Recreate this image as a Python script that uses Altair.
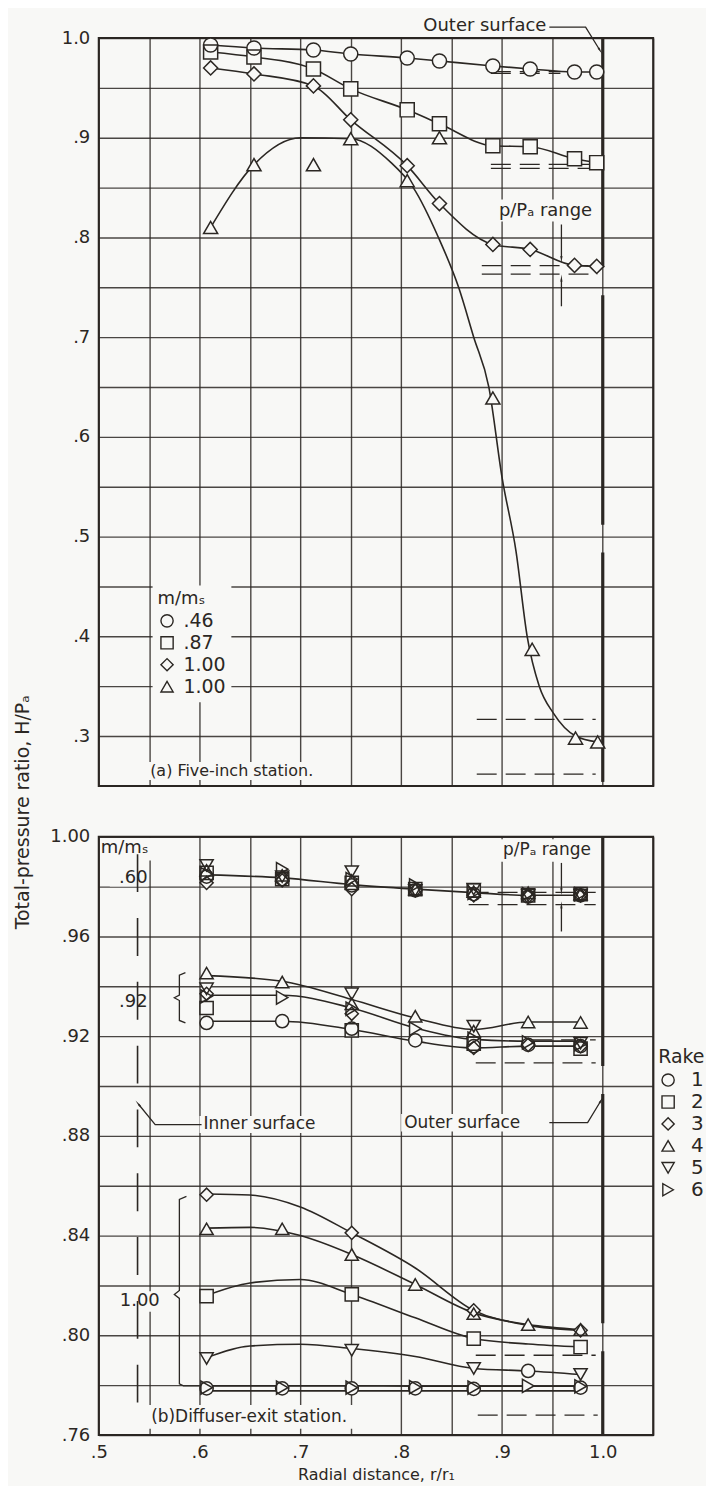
import math
import altair as alt
import pandas as pd

INK = "#2b2723"
BG = "#f8f8f6"
FONT = "DejaVu Sans"

# ---------------- grid / axes ----------------
X_DOMAIN = [0.50, 1.05]
X_GRID = [0.50, 0.55, 0.60, 0.65, 0.70, 0.75, 0.80, 0.85, 0.90, 0.95, 1.00, 1.05]
A_Y_DOMAIN = [0.25, 1.00]
A_Y_GRID = [0.25, 0.30, 0.35, 0.40, 0.45, 0.50, 0.55, 0.60, 0.65, 0.70, 0.75,
            0.80, 0.85, 0.90, 0.95, 1.00]
B_Y_DOMAIN = [0.76, 1.00]
B_Y_GRID = [0.76, 0.78, 0.80, 0.82, 0.84, 0.86, 0.88, 0.90, 0.92, 0.94, 0.96, 0.98, 1.00]

# ---------------- (a) Five-inch station ----------------
A_R = [0.611, 0.654, 0.713, 0.750, 0.806, 0.838, 0.891, 0.928, 0.972, 0.994]
A_M046 = [0.993, 0.990, 0.988, 0.984, 0.980, 0.977, 0.972, 0.969, 0.966, 0.966]
A_M087 = [0.986, 0.981, 0.969, 0.949, 0.928, 0.914, 0.892, 0.891, 0.879, 0.875]
A_M100D = [0.970, 0.964, 0.952, 0.918, 0.872, 0.834, 0.793, 0.788, 0.772, 0.771]
A_R_TRI = [0.611, 0.654, 0.713, 0.750, 0.806, 0.838, 0.891, 0.930, 0.973, 0.995]
A_M100T = [0.810, 0.873, 0.873, 0.899, 0.857, 0.900, 0.639, 0.387, 0.298, 0.294]
# faired curve drawn through the triangle data
A_FAIR_R = [0.611, 0.654, 0.700, 0.750, 0.790, 0.812, 0.837, 0.857, 0.872, 0.887,
            0.900, 0.914, 0.925, 0.937, 0.951, 0.973, 0.995]
A_FAIR_H = [0.810, 0.873, 0.900, 0.899, 0.875, 0.850, 0.800, 0.750, 0.700, 0.650,
            0.560, 0.485, 0.400, 0.350, 0.323, 0.300, 0.294]
A_KEYS = ["a1", "a2", "a3", "a4"]
A_LEGEND_LABELS = [".46", ".87", "1.00", "1.00"]
A_SHAPES = ["circle", "square", "diamond", "triangle-up"]
# p/Pa range dashes: y, x start, x end
A_RANGE_Y = [0.9664, 0.9645, 0.8733, 0.8693, 0.7717, 0.7633, 0.3167, 0.2617]
A_RANGE_X0 = [0.889, 0.889, 0.889, 0.889, 0.880, 0.880, 0.875, 0.875]
A_RANGE_X1 = [0.958, 0.958, 0.995, 0.995, 0.995, 0.995, 0.993, 0.993]

# ---------------- (b) Diffuser-exit station ----------------
B_R = [0.607, 0.682, 0.751, 0.814, 0.872, 0.926, 0.978]
# m/ms = .60
B60_R1 = [0.9840, 0.9830, 0.9805, 0.9785, 0.9770, 0.9760, 0.9765]
B60_R2 = [0.9855, 0.9830, 0.9815, 0.9790, 0.9785, 0.9765, 0.9770]
B60_R3 = [0.9815, 0.9825, 0.9790, 0.9785, 0.9765, 0.9760, 0.9765]
B60_R4 = [0.9865, 0.9845, 0.9825, 0.9790, 0.9780, 0.9775, 0.9770]
B60_R5 = [0.9885, 0.9840, 0.9860, 0.9785, 0.9790, 0.9765, 0.9765]
B60_R6 = [0.9850, 0.9870, 0.9830, 0.9805, 0.9775, 0.9770, 0.9770]
B60_FAIR = [0.9847, 0.9835, 0.9808, 0.9790, 0.9776, 0.9765, 0.9765]
# m/ms = .92
B92_R1 = [0.9253, 0.9260, 0.9230, 0.9183, 0.9160, 0.9165, 0.9160]
B92_R2 = [0.9313, None, 0.9223, None, 0.9170, None, 0.9150]
B92_R3 = [0.9370, None, 0.9290, None, 0.9153, 0.9165, 0.9160]
B92_R4 = [0.9453, 0.9417, 0.9330, 0.9280, 0.9220, 0.9257, 0.9255]
B92_R5 = [0.9390, None, 0.9370, None, 0.9240, None, 0.9172]
B92_R6 = [0.9360, 0.9355, 0.9310, 0.9230, 0.9190, 0.9175, 0.9168]
B92_FAIR4 = [0.9443, 0.9420, 0.9347, 0.9273, 0.9227, 0.9257, 0.9257]
B92_FAIR6 = [0.9364, 0.9364, 0.9313, 0.9233, 0.9187, 0.9180, 0.9180]
B92_FAIR1 = [0.9260, 0.9260, 0.9227, 0.9180, 0.9153, 0.9160, 0.9160]
# m/ms = 1.00
B100_R1 = [0.7787, 0.7787, 0.7787, 0.7787, 0.7785, 0.7857, 0.7790]
B100_R2 = [0.8157, None, 0.8164, None, 0.7987, None, 0.7953]
B100_R3 = [0.8564, None, 0.8411, None, 0.8100, None, 0.8020]
B100_R4 = [0.8427, 0.8427, 0.8324, 0.8204, 0.8087, 0.8043, 0.8023]
B100_R5 = [0.7907, None, 0.7940, None, 0.7867, None, 0.7843]
B100_R6 = [0.7790, 0.7790, 0.7790, 0.7792, 0.7790, 0.7797, 0.7795]
B100_FAIR_R = [0.607, 0.650, 0.700, 0.751, 0.814, 0.872, 0.926, 0.978]
B100_FAIR3 = [0.8567, 0.8563, 0.8515, 0.8411, 0.8270, 0.8100, 0.8040, 0.8020]
B100_FAIR2 = [0.8160, 0.8210, 0.8224, 0.8164, 0.8070, 0.7987, 0.7965, 0.7953]
B100_FAIR5 = [0.7910, 0.7957, 0.7964, 0.7947, 0.7915, 0.7867, 0.7857, 0.7843]
B100_FAIR4 = [0.8430, 0.8433, 0.8400, 0.8324, 0.8204, 0.8090, 0.8043, 0.8023]
B100_FAIR1 = [0.7797, 0.7797, 0.7797, 0.7797, 0.7796, 0.7796, 0.7796, 0.7796]
B100_FAIR6 = [0.7777, 0.7777, 0.7777, 0.7777, 0.7777, 0.7777, 0.7777, 0.7777]
RAKES = ["1", "2", "3", "4", "5", "6"]
RAKE_SHAPES = ["circle", "square", "diamond", "triangle-up", "triangle-down", "triangle-right"]
B_RANGE_Y = [0.9777, 0.9728, 0.9185, 0.9093, 0.7920, 0.7680]
B_RANGE_X0 = [0.867, 0.867, 0.930, 0.874, 0.874, 0.876]
B_RANGE_X1 = [0.993, 0.993, 0.993, 0.993, 0.993, 0.995]

# pixels per data unit (for arrowhead angles)
PX_X = 556 / 0.55
PX_YA = 750 / 0.75
PX_YB = 600 / 0.24
PT_SIZE_A = 200
PT_SIZE_B = 175

XS = alt.Scale(domain=X_DOMAIN, nice=False, zero=False)
YSA = alt.Scale(domain=A_Y_DOMAIN, nice=False, zero=False)
YSB = alt.Scale(domain=B_Y_DOMAIN, nice=False, zero=False)

X_LBL = ("round(datum.value*100) % 10 == 0 && datum.value < 1.01 ? "
         "(datum.value > 0.999 ? '1.0' : substring(format(datum.value, '.1f'), 1)) : ''")
YA_LBL = ("round(datum.value*100) % 10 == 0 && datum.value > 0.27 ? "
          "(datum.value > 0.999 ? '1.0' : substring(format(datum.value, '.1f'), 1)) : ''")
YB_LBL = ("round(datum.value*100) % 4 == 0 ? "
          "(datum.value > 0.999 ? '1.00' : substring(format(datum.value, '.2f'), 1)) : ''")

AX_X_TOP = alt.Axis(values=X_GRID, labels=False, ticks=False, domain=False, title=None)
AX_X_BOT = alt.Axis(values=X_GRID, labelExpr=X_LBL, ticks=False, domain=False,
                    labelPadding=9, labelOverlap=False, labelFlush=False,
                    title="Radial distance, r/r\u2081", titlePadding=5, titleFontSize=16)
AX_Y_TOP = alt.Axis(values=A_Y_GRID, labelExpr=YA_LBL, ticks=False, domain=False,
                    labelPadding=9, labelOverlap=False, labelFlush=False,
                    title="Total-pressure ratio, H/P\u2090", titleX=-76, titleY=776,
                    titleBaseline="middle", titleFontSize=19)
AX_Y_BOT = alt.Axis(values=B_Y_GRID, labelExpr=YB_LBL, ticks=False, domain=False,
                    labelPadding=9, labelOverlap=False, labelFlush=False, title=None)


def enc(panel):
    if panel == "a":
        return (lambda f: alt.X(f + ":Q", scale=XS, axis=AX_X_TOP),
                lambda f: alt.Y(f + ":Q", scale=YSA, axis=AX_Y_TOP))
    return (lambda f: alt.X(f + ":Q", scale=XS, axis=AX_X_BOT),
            lambda f: alt.Y(f + ":Q", scale=YSB, axis=AX_Y_BOT))


def rows_xy(xs, ys, key, col):
    return [{"x": x, "y": y, col: key} for x, y in zip(xs, ys) if y is not None]


def line_rows(xs, ys, lid):
    return [{"x": x, "y": y, "id": lid, "ord": i} for i, (x, y) in enumerate(zip(xs, ys))]


def arrow_angle(p0, p1, pxy):
    dx = (p1[0] - p0[0]) * PX_X
    dy = -(p1[1] - p0[1]) * pxy
    return math.degrees(math.atan2(dx, -dy)) % 360


def panel(panel_id, curves, point_rows, shape_field, domain, shapes, legend, pt_size,
          ranges, boxes, leaders, heads, texts, outer, inner=None):
    X, Y = enc(panel_id)
    layers = []
    layers.append(alt.Chart(pd.DataFrame(boxes)).mark_rect(fill=BG, stroke=None).encode(
        x=X("x0"), x2="x1", y=Y("y0"), y2="y1"))
    layers.append(alt.Chart(pd.DataFrame(ranges)).mark_rule(
        color=INK, strokeWidth=1.3, strokeDash=[20, 9]).encode(x=X("x0"), x2="x1", y=Y("y")))
    if inner is not None:
        layers.append(alt.Chart(pd.DataFrame([inner])).mark_rule(
            color=INK, strokeWidth=1.6, strokeDash=[38, 26]).encode(x=X("x"), y=Y("y0"), y2="y1"))
    layers.append(alt.Chart(pd.DataFrame(curves)).mark_line(
        color=INK, strokeWidth=1.6, interpolate="monotone").encode(
        x=X("x"), y=Y("y"), detail="id:N", order="ord:Q"))
    layers.append(alt.Chart(pd.DataFrame(leaders)).mark_line(
        color=INK, strokeWidth=1.3, interpolate="linear").encode(
        x=X("x"), y=Y("y"), detail="id:N", order="ord:Q"))
    layers.append(alt.Chart(pd.DataFrame([outer])).mark_rule(
        color=INK, strokeWidth=3.2, strokeDash=[230, 28]).encode(x=X("x"), y=Y("y0"), y2="y1"))
    pdf = pd.DataFrame(point_rows)
    # paper-coloured underlay so that curves do not show through the open symbols
    for key, shp in zip(domain, shapes):
        sub = pdf[pdf[shape_field] == key]
        if len(sub):
            layers.append(alt.Chart(sub).mark_point(
                shape=shp, filled=True, color=BG, opacity=1, size=pt_size).encode(
                x=X("x"), y=Y("y")))
    layers.append(alt.Chart(pdf).mark_point(
        filled=False, color=INK, strokeWidth=1.5, opacity=1, size=pt_size).encode(
        x=X("x"), y=Y("y"),
        shape=alt.Shape(shape_field + ":N", scale=alt.Scale(domain=domain, range=shapes),
                        legend=legend)))
    layers.append(alt.Chart(pd.DataFrame(heads)).mark_point(
        shape="wedge", filled=True, color=INK, opacity=1, size=70).encode(
        x=X("x"), y=Y("y"), angle=alt.Angle("ang:Q", scale=None)))
    for t in texts:
        layers.append(alt.Chart(pd.DataFrame([t])).mark_text(
            align=t["align"], baseline="middle", fontSize=t["size"], font=FONT, color=INK).encode(
            x=X("x"), y=Y("y"), text="text:N"))
    return alt.layer(*layers)


# ---------- build panel (a) ----------
a_points = (rows_xy(A_R, A_M046, "a1", "key") + rows_xy(A_R, A_M087, "a2", "key")
            + rows_xy(A_R, A_M100D, "a3", "key") + rows_xy(A_R_TRI, A_M100T, "a4", "key"))
a_curves = (line_rows(A_R, A_M046, "c1") + line_rows(A_R, A_M087, "c2")
            + line_rows(A_R, A_M100D, "c3") + line_rows(A_FAIR_R, A_FAIR_H, "c4"))
a_ranges = [{"y": y, "x0": a, "x1": b} for y, a, b in zip(A_RANGE_Y, A_RANGE_X0, A_RANGE_X1)]
a_boxes = [
    {"x0": 0.548, "x1": 0.748, "y0": 0.256, "y1": 0.274},
    {"x0": 0.894, "x1": 0.998, "y0": 0.816, "y1": 0.838},
]
a_lead = [
    [(0.947, 1.011), (0.983, 1.011), (0.997, 0.988)],
    [(0.959, 0.813), (0.959, 0.779)],
    [(0.959, 0.731), (0.959, 0.758)],
]
a_leaders, a_heads = [], []
for i, pts in enumerate(a_lead):
    a_leaders += line_rows([p[0] for p in pts], [p[1] for p in pts], "L%d" % i)
    a_heads.append({"x": pts[-1][0], "y": pts[-1][1], "ang": arrow_angle(pts[-2], pts[-1], PX_YA)})
a_texts = [
    {"text": "Outer surface", "x": 0.944, "y": 1.012, "align": "right", "size": 18},
    {"text": "p/P\u2090 range", "x": 0.897, "y": 0.8265, "align": "left", "size": 18},
    {"text": "(a) Five-inch station.", "x": 0.551, "y": 0.265, "align": "left", "size": 16},
]
a_legend = alt.Legend(
    title="m/m\u209b", orient="none", legendX=54, legendY=549, fillColor=BG, padding=5,
    labelExpr="datum.label == 'a1' ? '.46' : datum.label == 'a2' ? '.87' : '1.00'",
    titleFontSize=18, labelFontSize=19, symbolSize=150, rowPadding=2, labelOffset=7,
    titlePadding=3, symbolStrokeColor=INK, symbolStrokeWidth=1.4, symbolOpacity=1)
top = panel("a", a_curves, a_points, "key", A_KEYS, A_SHAPES, a_legend, PT_SIZE_A,
            a_ranges, a_boxes, a_leaders, a_heads, a_texts,
            {"x": 1.0, "y0": 1.0, "y1": 0.25}).properties(width=556, height=750)

# ---------- build panel (b) ----------
b_points = []
for rk, vals in zip(RAKES, [B60_R1, B60_R2, B60_R3, B60_R4, B60_R5, B60_R6]):
    b_points += rows_xy(B_R, vals, rk, "rake")
for rk, vals in zip(RAKES, [B92_R1, B92_R2, B92_R3, B92_R4, B92_R5, B92_R6]):
    b_points += rows_xy(B_R, vals, rk, "rake")
for rk, vals in zip(RAKES, [B100_R1, B100_R2, B100_R3, B100_R4, B100_R5, B100_R6]):
    b_points += rows_xy(B_R, vals, rk, "rake")
b_curves = (line_rows(B_R, B60_FAIR, "f60")
            + line_rows(B_R, B92_FAIR4, "f92a") + line_rows(B_R, B92_FAIR6, "f92b")
            + line_rows(B_R, B92_FAIR1, "f92c")
            + line_rows(B100_FAIR_R, B100_FAIR3, "g3") + line_rows(B100_FAIR_R, B100_FAIR4, "g4")
            + line_rows(B100_FAIR_R, B100_FAIR2, "g2") + line_rows(B100_FAIR_R, B100_FAIR5, "g5")
            + line_rows(B100_FAIR_R, B100_FAIR1, "g1") + line_rows(B100_FAIR_R, B100_FAIR6, "g6"))
b_ranges = [{"y": y, "x0": a, "x1": b} for y, a, b in zip(B_RANGE_Y, B_RANGE_X0, B_RANGE_X1)]
b_boxes = [
    {"x0": 0.5015, "x1": 0.558, "y0": 0.9905, "y1": 0.9995},
    {"x0": 0.511, "x1": 0.549, "y0": 0.9800, "y1": 0.9872},
    {"x0": 0.511, "x1": 0.549, "y0": 0.9300, "y1": 0.9374},
    {"x0": 0.514, "x1": 0.562, "y0": 0.8095, "y1": 0.8177},
    {"x0": 0.600, "x1": 0.739, "y0": 0.8812, "y1": 0.8880},
    {"x0": 0.800, "x1": 0.949, "y0": 0.8818, "y1": 0.8888},
    {"x0": 0.898, "x1": 0.996, "y0": 0.9900, "y1": 0.9990},
    {"x0": 0.549, "x1": 0.792, "y0": 0.7625, "y1": 0.7720},
]
b_lead = [
    [(0.602, 0.8845), (0.556, 0.8845), (0.5395, 0.8927)],
    [(0.947, 0.8853), (0.985, 0.8853), (0.998, 0.8940)],
    [(0.959, 0.9895), (0.959, 0.9785)],
    [(0.959, 0.9620), (0.959, 0.9722)],
]
b_braces = [
    [(0.586, 0.9455), (0.580, 0.9445), (0.580, 0.9365), (0.575, 0.9354), (0.580, 0.9343),
     (0.580, 0.9263), (0.586, 0.9253)],
    [(0.587, 0.8557), (0.580, 0.8545), (0.580, 0.8180), (0.575, 0.8164), (0.580, 0.8148),
     (0.580, 0.7805), (0.584, 0.7797), (0.600, 0.7797)],
]
b_leaders, b_heads = [], []
for i, pts in enumerate(b_lead):
    b_leaders += line_rows([p[0] for p in pts], [p[1] for p in pts], "L%d" % i)
    b_heads.append({"x": pts[-1][0], "y": pts[-1][1], "ang": arrow_angle(pts[-2], pts[-1], PX_YB)})
for i, pts in enumerate(b_braces):
    b_leaders += line_rows([p[0] for p in pts], [p[1] for p in pts], "B%d" % i)
b_texts = [
    {"text": "m/m\u209b", "x": 0.502, "y": 0.9953, "align": "left", "size": 18},
    {"text": ".60", "x": 0.5485, "y": 0.9836, "align": "right", "size": 18},
    {"text": ".92", "x": 0.5485, "y": 0.9337, "align": "right", "size": 18},
    {"text": "1.00", "x": 0.5605, "y": 0.8136, "align": "right", "size": 18},
    {"text": "Inner surface", "x": 0.604, "y": 0.8846, "align": "left", "size": 17},
    {"text": "Outer surface", "x": 0.803, "y": 0.8853, "align": "left", "size": 17},
    {"text": "p/P\u2090 range", "x": 0.901, "y": 0.9945, "align": "left", "size": 17},
    {"text": "(b)Diffuser-exit station.", "x": 0.552, "y": 0.7672, "align": "left", "size": 17},
]
b_legend = alt.Legend(
    title="Rake", orient="none", legendX=561, legendY=212, padding=0,
    titleFontSize=19, labelFontSize=20, symbolSize=150, rowPadding=2, labelOffset=13,
    titlePadding=3, symbolStrokeColor=INK, symbolStrokeWidth=1.4, symbolOpacity=1)
bottom = panel("b", b_curves, b_points, "rake", RAKES, RAKE_SHAPES, b_legend, PT_SIZE_B,
               b_ranges, b_boxes, b_leaders, b_heads, b_texts,
               {"x": 1.0, "y0": 1.0, "y1": 0.76},
               inner={"x": 0.5385, "y0": 0.993, "y1": 0.764}).properties(width=556, height=600)

chart = alt.vconcat(top, bottom, spacing=51, bounds="flush").resolve_scale(
    x="independent", y="independent", shape="independent"
).resolve_legend(shape="independent").properties(
    padding={"left": 5, "top": 5, "right": 0, "bottom": 0}, background=BG
).configure_view(stroke=INK, strokeWidth=2).configure_axis(
    gridColor=INK, gridWidth=1.4, gridOpacity=0.85, labelColor=INK, titleColor=INK,
    labelFont=FONT, titleFont=FONT, labelFontSize=18, titleFontWeight="normal"
).configure_legend(
    titleFont=FONT, labelFont=FONT, titleColor=INK, labelColor=INK, titleFontWeight="normal"
)

chart.save("out.html", embed_options={"renderer": "svg", "actions": False})
